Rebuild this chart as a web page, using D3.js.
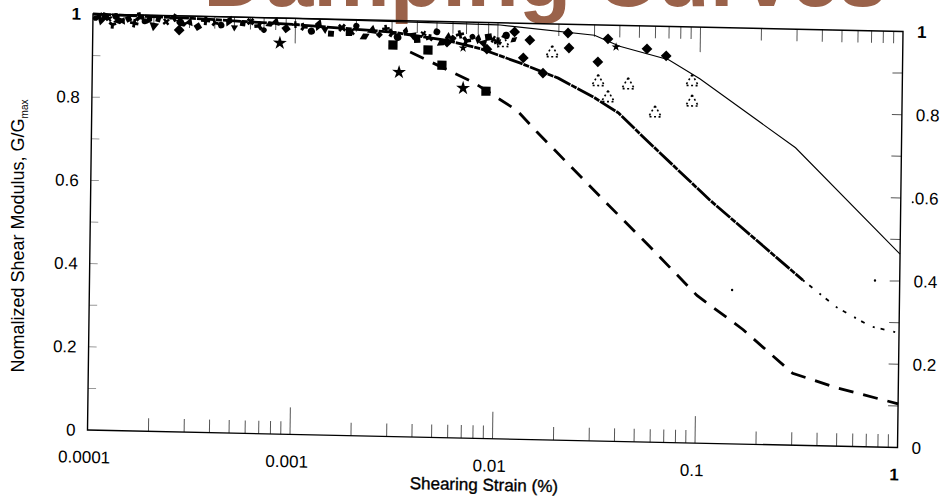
<!DOCTYPE html>
<html><head><meta charset="utf-8">
<script src="https://cdn.jsdelivr.net/npm/d3@7"></script>
<style>
body{margin:0;background:#fff;}
svg{display:block;font-family:"Liberation Sans",Arial,Helvetica,sans-serif;}
</style></head><body>
<svg id="chart" width="947" height="498"></svg>
<script>
// ---------- data ----------
const titleText = "Damping Curves";
const xTitle = "Shearing Strain (%)";
const yTitleMain = "Nomalized Shear Modulus, G/G";
const yTitleSub = "max";

const xTickValues = [0.0001, 0.001, 0.01, 0.1, 1];
const xTickLabels = ["0.0001", "0.001", "0.01", "0.1", "1"];
const yTickValues = [0, 0.2, 0.4, 0.6, 0.8, 1];
const yTickLabelsLeft = ["0", "0.2", "0.4", "0.6", "0.8", "1"];
const yTickLabelsRight = ["0", "0.2", "0.4", "0.6", "0.8", "1"];

// thin upper curve
const upperStrain = [0.0001, 0.001, 0.01, 0.03, 0.04, 0.07, 0.1, 0.3, 1];
const upperG      = [1.0, 1.0, 0.995, 0.975, 0.95, 0.92, 0.876, 0.715, 0.465];

// thick middle curve (dense points) and sparse tail
const middleStrain = [0.0001, 0.0003, 0.001, 0.003, 0.0056, 0.0082, 0.013, 0.02, 0.03, 0.04, 0.053, 0.114, 0.333];
const middleG      = [1.0, 0.995, 0.985, 0.972, 0.955, 0.937, 0.904, 0.87, 0.826, 0.789, 0.733, 0.585, 0.397];
const middleTailStrain = [0.333, 0.49, 0.72, 1.0];
const middleTailG      = [0.397, 0.334, 0.29, 0.275];

// heavy dashed lower curve
const lowerStrain = [0.0037, 0.0076, 0.0126, 0.0158, 0.034, 0.058, 0.1, 0.17, 0.3, 0.5, 1.0];
const lowerG      = [0.925, 0.856, 0.79, 0.74, 0.58, 0.47, 0.355, 0.275, 0.173, 0.14, 0.105];

// test data markers
const diamondStrain = [0.000267, 0.00562, 0.0121, 0.00885, 0.0144, 0.0134, 0.0168, 0.0222, 0.0225, 0.0313, 0.035, 0.0546, 0.068];
const diamondG      = [0.966, 0.951, 0.979, 0.936, 0.96, 0.917, 0.881, 0.979, 0.943, 0.911, 0.967, 0.945, 0.929];

const starStrain = [0.00084, 0.00327, 0.00679, 0.00675, 0.0384];
const starG      = [0.94, 0.876, 0.841, 0.9375, 0.948];

const squareStrain = [0.00184, 0.00304, 0.00453, 0.00532, 0.00881];
const squareG      = [0.968, 0.941, 0.931, 0.895, 0.835];

const triangleStrain = [0.0106, 0.0186, 0.0315, 0.0443, 0.0353, 0.0604, 0.0916, 0.0919];
const triangleG      = [0.952, 0.93, 0.863, 0.857, 0.825, 0.791, 0.868, 0.819];

const dotStrain = [0.149, 0.755];
const dotG      = [0.37, 0.40];

// dense cluster of small-strain points along the top
const clusterStrain = [0.000103,0.000107,0.00011,0.000115,0.00012,0.000125,0.00013,0.000135,0.00014,0.00015,0.00016,0.00017,0.00018,0.00019,0.0002,0.00021,0.00023,0.00025,0.00027,0.00028,0.0003,0.00033,0.00036,0.0004,0.00043,0.00047,0.0005,0.00055,0.0006,0.00066,0.0007,0.00075,0.0008,0.0009,0.001,0.0011,0.0012,0.0013,0.0014,0.0015,0.0017,0.0019,0.002,0.0022,0.0024,0.0026,0.0028,0.003,0.0032,0.0035,0.0038,0.004,0.0043,0.0046,0.005,0.0053,0.0057,0.006,0.0065,0.007,0.0075,0.008,0.0085,0.009,0.0095,0.01,0.011,0.012];
const clusterG = [0.99,0.995,0.985,0.995,0.99,0.975,0.995,0.985,0.985,0.99,0.98,0.995,0.985,0.99,0.975,0.99,0.985,0.995,0.985,0.98,0.985,0.975,0.99,0.985,0.98,0.99,0.975,0.985,0.99,0.98,0.97,0.985,0.99,0.975,0.985,0.98,0.97,0.985,0.975,0.965,0.98,0.97,0.985,0.96,0.975,0.965,0.98,0.97,0.96,0.975,0.965,0.955,0.97,0.96,0.975,0.95,0.965,0.96,0.97,0.955,0.965,0.96,0.95,0.965,0.96,0.955,0.97,0.96];

// ---------- layout ----------
const W = 810, H = 416;
const svg = d3.select("#chart");

// title (mostly cropped at the top, as in the source)
svg.append("text")
  .attr("x", 545).attr("y", 6)
  .attr("text-anchor", "middle")
  .attr("font-size", 86).attr("font-weight", "bold")
  .attr("fill", "#9a624a")
  .text(titleText);

// scanned page is slightly skewed: affine transform of the plot
const g = svg.append("g").attr("transform", "matrix(1,0.0216,-0.0132,1,93,14)");

const x = d3.scaleLog().domain([1e-4, 1]).range([0, W]);
const y = d3.scaleLinear().domain([0, 1]).range([H, 0]);

// ---- ticks ----
const minorVals = [];
for (let k = -4; k <= -1; k++) for (let m = 1; m <= 9; m++) minorVals.push(m * Math.pow(10, k));
const tickG = g.append("g").attr("stroke", "#555").attr("stroke-width", 1);
minorVals.forEach(v => {
  const major = Math.abs(Math.log10(v) - Math.round(Math.log10(v))) < 1e-9;
  if (v <= 1e-4) return;
  const lenB = major ? 27 : 13;
  const lenT = major ? 25 : 12;
  tickG.append("line").attr("x1", x(v)).attr("x2", x(v)).attr("y1", H).attr("y2", H - lenB);
  tickG.append("line").attr("x1", x(v)).attr("x2", x(v)).attr("y1", 0).attr("y2", lenT);
});
d3.range(1, 10).forEach(i => {
  const v = i / 10;
  tickG.append("line").attr("x1", 0).attr("x2", 8).attr("y1", y(v)).attr("y2", y(v)).attr("stroke", "#999");
  tickG.append("line").attr("x1", W).attr("x2", W - 10).attr("y1", y(v)).attr("y2", y(v));
});

// frame
g.append("rect").attr("x", 0).attr("y", 0).attr("width", W).attr("height", H)
  .attr("fill", "none").attr("stroke", "#000").attr("stroke-width", 1.4);

// ---- tick labels ----
const labelFont = 17;
g.selectAll(".yl").data(yTickValues).join("text")
  .attr("x", -12).attr("y", d => y(d)).attr("dy", "0.35em")
  .attr("text-anchor", "end").attr("font-size", labelFont)
  .attr("font-weight", (d, i) => yTickLabelsLeft[i] === "1" ? "bold" : "normal")
  .text((d, i) => yTickLabelsLeft[i]);
g.selectAll(".yr").data(yTickValues).join("text")
  .attr("x", W + 14).attr("y", d => y(d)).attr("dy", "0.35em")
  .attr("text-anchor", "start").attr("font-size", labelFont)
  .attr("font-weight", (d, i) => yTickLabelsRight[i] === "1" ? "bold" : "normal")
  .text((d, i) => yTickLabelsRight[i]);
g.append("circle").attr("cx", W + 12).attr("cy", y(0.6) + 4).attr("r", 1).attr("fill", "#000");
g.selectAll(".xl").data(xTickValues).join("text")
  .attr("x", d => x(d) - 3).attr("y", H + 27).attr("dy", "0.35em")
  .attr("text-anchor", "middle").attr("font-size", labelFont)
  .attr("font-weight", (d, i) => xTickLabels[i] === "1" ? "bold" : "normal")
  .text((d, i) => xTickLabels[i]);

// axis titles
g.append("text").attr("x", W / 2 - 8).attr("y", H + 46).attr("dy", "0.35em")
  .attr("text-anchor", "middle").attr("font-size", 17)
  .attr("stroke", "#000").attr("stroke-width", 0.35)
  .text(xTitle);

const yt = svg.append("text").attr("transform", "translate(24,236) rotate(-90)")
  .attr("text-anchor", "middle").attr("font-size", 18);
yt.append("tspan").text(yTitleMain);
yt.append("tspan").attr("font-size", 10).attr("dy", 4).text(yTitleSub);

// ---- curves ----
const line = d3.line().x(d => x(d[0])).y(d => y(d[1]));
const zip = (a, b) => a.map((v, i) => [v, b[i]]);

g.append("path").attr("d", line(zip(upperStrain, upperG)))
  .attr("fill", "none").attr("stroke", "#000").attr("stroke-width", 1.1);
g.append("path").attr("d", line(zip(middleStrain, middleG)))
  .attr("fill", "none").attr("stroke", "#000").attr("stroke-width", 2.8)
  .attr("stroke-dasharray", "18,1,6,1");
g.append("path").attr("d", line(zip(middleTailStrain, middleTailG)))
  .attr("fill", "none").attr("stroke", "#000").attr("stroke-width", 1.8)
  .attr("stroke-dasharray", "2,6,4,9");
g.append("path").attr("d", line(zip(lowerStrain, lowerG)))
  .attr("fill", "none").attr("stroke", "#000").attr("stroke-width", 2.8)
  .attr("stroke-dasharray", "15,10");

// ---- markers ----
const sym = (type, size) => d3.symbol(type, size)();
const clusterShapes = [d3.symbolCircle, d3.symbolDiamond, d3.symbolTriangle, d3.symbolSquare, d3.symbolCross, d3.symbolWye];
g.selectAll(".cl").data(zip(clusterStrain, clusterG)).join("path")
  .attr("transform", (d, i) => `translate(${x(d[0])},${y(d[1])}) rotate(${(i * 37) % 90})`)
  .attr("d", (d, i) => sym(clusterShapes[i % clusterShapes.length], 22 + (i * 7) % 26))
  .attr("fill", "#000");

g.selectAll(".dm").data(zip(diamondStrain, diamondG)).join("path")
  .attr("transform", d => `translate(${x(d[0])},${y(d[1])}) rotate(45)`)
  .attr("d", sym(d3.symbolSquare, 58)).attr("fill", "#000");
g.selectAll(".st").data(zip(starStrain, starG)).join("path")
  .attr("transform", d => `translate(${x(d[0])},${y(d[1])})`)
  .attr("d", (d, i) => sym(d3.symbolStar, i >= 3 ? 25 : 60)).attr("fill", "#000");
g.selectAll(".sq").data(zip(squareStrain, squareG)).join("path")
  .attr("transform", d => `translate(${x(d[0])},${y(d[1])})`)
  .attr("d", (d, i) => sym(d3.symbolSquare, i === 0 ? 40 : 85)).attr("fill", "#000");
g.selectAll(".tr").data(zip(triangleStrain, triangleG)).join("path")
  .attr("transform", d => `translate(${x(d[0])},${y(d[1])})`)
  .attr("d", sym(d3.symbolTriangle, 70))
  .attr("fill", "none").attr("stroke", "#000").attr("stroke-width", 1.6)
  .attr("stroke-dasharray", "2,2.5");
g.selectAll(".dt").data(zip(dotStrain, dotG)).join("circle")
  .attr("cx", d => x(d[0])).attr("cy", d => y(d[1])).attr("r", 1.2).attr("fill", "#000");
</script>
</body></html>
